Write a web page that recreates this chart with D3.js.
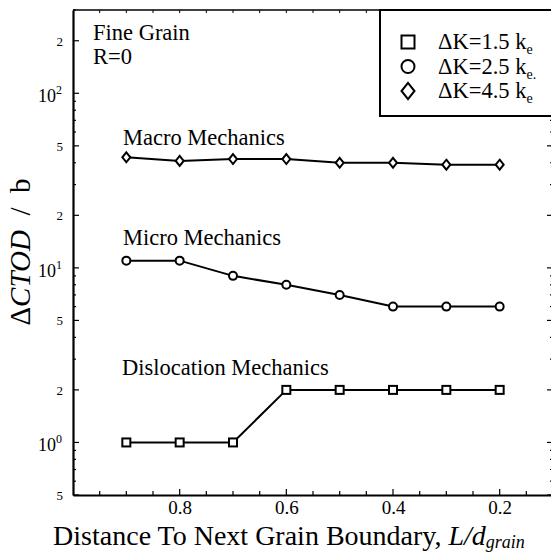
<!DOCTYPE html>
<html>
<head>
<meta charset="utf-8">
<script src="https://cdn.jsdelivr.net/npm/d3@7"></script>
<style>
  html, body { margin: 0; padding: 0; background: #fff; }
  svg { display: block; }
  text { font-family: "Liberation Serif", "Times New Roman", serif; fill: #000; }
</style>
</head>
<body>
<svg id="chart" width="551" height="553"></svg>
<script>
// Normalised distance to the next grain boundary (L / d_grain)
const distance = [0.9, 0.8, 0.7, 0.6, 0.5, 0.4, 0.3, 0.2];

// ΔCTOD / b for each loading level
const dislocation = [1, 1, 1, 2, 2, 2, 2, 2];          // ΔK = 1.5 k_e
const micro       = [11, 11, 9, 8, 7, 6, 6, 6];        // ΔK = 2.5 k_e
const macro       = [43, 41, 42, 42, 40, 40, 39, 39];  // ΔK = 4.5 k_e

const seriesNames = ["Dislocation Mechanics", "Micro Mechanics", "Macro Mechanics"];
const legendLabels = ["ΔK=1.5 k", "ΔK=2.5 k", "ΔK=4.5 k"];
const legendSubs = ["e", "e.", "e"];

const xTickValues = [0.8, 0.6, 0.4, 0.2];
const yTickValues = [200, 100, 50, 20, 10, 5, 2, 1, 0.5];

const svg = d3.select("#chart");
const plotL = 73, plotR = 553, plotT = 10, plotB = 495;

const x = d3.scaleLinear().domain([1.0, 0.1]).range([plotL, plotR]);
const y = d3.scaleLog().domain([0.5, 300]).range([plotB, plotT]);

// ---- frame ----
svg.append("line").attr("x1", plotL).attr("x2", plotR).attr("y1", plotT).attr("y2", plotT)
  .attr("stroke", "#000").attr("stroke-width", 1.5);
svg.append("line").attr("x1", plotR).attr("x2", plotR).attr("y1", plotT).attr("y2", plotB)
  .attr("stroke", "#000").attr("stroke-width", 2);

// ---- bottom axis (ticks point inward) ----
const xMinor = d3.range(0.95, 0.1, -0.05).map(v => +v.toFixed(2));
const xAxis = d3.axisBottom(x).tickValues(xTickValues).tickSize(0).tickPadding(0)
  .tickFormat(d3.format(".1f"));
const gx = svg.append("g").attr("transform", `translate(0,${plotB})`).call(xAxis);
gx.select(".domain").attr("stroke", "#000").attr("stroke-width", 2.2);
gx.selectAll(".tick text").attr("y", 19).attr("dy", null).attr("font-size", 19)
  .attr("font-family", "Liberation Serif");
const isMajorX = d => Math.abs(d * 10 - Math.round(d * 10)) < 1e-6 && Math.round(d * 10) % 2 === 0;
svg.append("g").selectAll("line").data(xMinor).join("line")
  .attr("x1", d => x(d)).attr("x2", d => x(d))
  .attr("y1", plotB).attr("y2", d => plotB - (isMajorX(d) ? 6 : 4))
  .attr("stroke", "#000").attr("stroke-width", 1.2);
// top ticks
svg.append("g").selectAll("line").data(xMinor).join("line")
  .attr("x1", d => x(d)).attr("x2", d => x(d))
  .attr("y1", plotT).attr("y2", plotT + 3)
  .attr("stroke", "#000").attr("stroke-width", 1);

// ---- left axis ----
const yAxis = d3.axisLeft(y).tickValues(yTickValues).tickSize(0).tickFormat("");
const gy = svg.append("g").attr("transform", `translate(${plotL},0)`).call(yAxis);
gy.select(".domain").attr("stroke", "#000").attr("stroke-width", 2.2);

const yMinor = [];
[0.1, 1, 10, 100].forEach(dec => {
  for (let m = 1; m <= 9; m++) {
    const v = m * dec;
    if (v >= 0.5 && v <= 300) yMinor.push({ v, major: m === 1 || m === 2 || m === 5 });
  }
});
svg.append("g").selectAll("line").data(yMinor).join("line")
  .attr("x1", plotL).attr("x2", d => plotL + (d.major ? 6 : 3))
  .attr("y1", d => y(d.v)).attr("y2", d => y(d.v))
  .attr("stroke", "#000").attr("stroke-width", 1.2);
// right-side ticks
svg.append("g").selectAll("line").data(yMinor).join("line")
  .attr("x1", plotR).attr("x2", d => plotR - (d.major ? 6 : 3))
  .attr("y1", d => y(d.v)).attr("y2", d => y(d.v))
  .attr("stroke", "#000").attr("stroke-width", 1.2);

// y tick labels: powers of ten as 10^n, others as the mantissa
const yLab = svg.append("g");
yTickValues.forEach(v => {
  const exp = Math.floor(Math.log10(v) + 1e-9);
  const mant = Math.round(v / Math.pow(10, exp));
  const yy = y(v);
  if (mant === 1) {
    const t = yLab.append("text").attr("x", 62).attr("y", yy + 9)
      .attr("text-anchor", "end").attr("font-size", 18);
    t.append("tspan").text("10");
    t.append("tspan").attr("font-size", 12).attr("dy", -8).text(String(exp));
  } else {
    yLab.append("text").attr("x", 63).attr("y", yy + 5)
      .attr("text-anchor", "end").attr("font-size", 13).text(String(mant));
  }
});

// ---- axis titles ----
const xt = svg.append("text").attr("x", 289).attr("y", 545)
  .attr("text-anchor", "middle").attr("font-size", 28);
xt.append("tspan").text("Distance To Next Grain Boundary, ");
xt.append("tspan").attr("font-style", "italic").text("L/d");
xt.append("tspan").attr("font-style", "italic").attr("font-size", 18).attr("dy", 3).text("grain");

const yt = svg.append("text").attr("transform", "translate(30,252) rotate(-90)")
  .attr("text-anchor", "middle").attr("font-size", 29).attr("xml:space", "preserve");
yt.append("tspan").text("Δ");
yt.append("tspan").attr("font-style", "italic").text("CTOD");
yt.append("tspan").text("  /  b");

// ---- series ----
const series = [
  { values: dislocation, shape: "square", label: seriesNames[0] },
  { values: micro,       shape: "circle", label: seriesNames[1] },
  { values: macro,       shape: "diamond", label: seriesNames[2] }
];

const line = d3.line().x((d, i) => x(distance[i])).y(d => y(d));

function marker(g, shape, cx, cy, s) {
  if (shape === "square") {
    g.append("rect").attr("x", cx - s / 2).attr("y", cy - s / 2).attr("width", s).attr("height", s);
  } else if (shape === "circle") {
    g.append("circle").attr("cx", cx).attr("cy", cy).attr("r", s / 2);
  } else {
    const w = s / 2, h = s * 0.62;
    g.append("path").attr("d", `M${cx},${cy - h}L${cx + w},${cy}L${cx},${cy + h}L${cx - w},${cy}Z`);
  }
}

series.forEach(s => {
  svg.append("path").datum(s.values).attr("d", line)
    .attr("fill", "none").attr("stroke", "#000").attr("stroke-width", 2);
  const g = svg.append("g").attr("fill", "#fff").attr("stroke", "#000").attr("stroke-width", 2);
  s.values.forEach((v, i) => marker(g, s.shape, x(distance[i]), y(v), 8));
});

// series captions
const captions = [
  { text: seriesNames[2], x: 123, y: 145 },
  { text: seriesNames[1], x: 123, y: 245 },
  { text: seriesNames[0], x: 122, y: 375 }
];
svg.append("g").selectAll("text").data(captions).join("text")
  .attr("x", d => d.x).attr("y", d => d.y).attr("font-size", 22.5).text(d => d.text);

// condition note
svg.append("text").attr("x", 93).attr("y", 40).attr("font-size", 22.5).text("Fine Grain");
svg.append("text").attr("x", 93).attr("y", 64).attr("font-size", 22.5).text("R=0");

// ---- legend ----
const lg = svg.append("g");
lg.append("rect").attr("x", 380).attr("y", 10).attr("width", 180).attr("height", 106)
  .attr("fill", "#fff").attr("stroke", "#000").attr("stroke-width", 2);
const shapes = ["square", "circle", "diamond"];
shapes.forEach((sh, i) => {
  const cy = 42 + i * 24.5;
  const g = lg.append("g").attr("fill", "none").attr("stroke", "#000").attr("stroke-width", 2);
  marker(g, sh, 408, cy, 13);
  const t = lg.append("text").attr("x", 438).attr("y", cy + 7).attr("font-size", 22.5);
  t.append("tspan").text(legendLabels[i]);
  t.append("tspan").attr("font-size", 14).attr("dy", 5).text(legendSubs[i]);
});
</script>
</body>
</html>
